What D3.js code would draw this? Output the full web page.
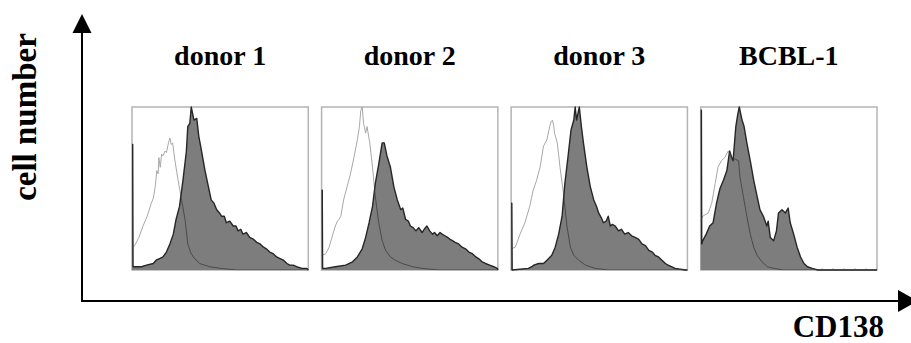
<!DOCTYPE html>
<html>
<head>
<meta charset="utf-8">
<script src="https://cdn.jsdelivr.net/npm/d3@7"></script>
<style>
  body { margin: 0; background: #fff; }
  text { font-family: "Liberation Serif", "Times New Roman", serif; font-weight: bold; fill: #000; }
</style>
</head>
<body>
<div id="chart"></div>
<script>
/* DATA */
// panel names, histograms as [channel (0-256), % of max count]
const samples = ["donor 1", "donor 2", "donor 3", "BCBL-1"];

// isotype control (open grey line)
const iso1 = [[0,14],[4,15],[10,20],[16,27],[22,33],[28,41],[31,44],[34,52],[36,61],[38,59],[39,69],[41,63],[43,71],[45,70],[48,73],[50,72],[53,78],[55,81],[57,77],[59,78],[62,68],[67,55],[72,43],[77,31],[81,16],[85,11],[89,8],[98,4],[113,2],[128,1],[152,0],[256,0]];
const iso2 = [[0,9],[6,10],[11,14],[15,20],[20,27],[23,30],[25,31],[28,33],[32,43],[37,51],[42,59],[47,69],[52,80],[55,88],[57,98],[59,100],[61,90],[64,84],[66,88],[70,78],[74,63],[78,45],[83,29],[88,18],[93,12],[100,8],[107,6],[117,4],[132,2],[146,1],[170,0],[256,0]];
const iso3 = [[0,13],[6,14],[13,22],[20,29],[27,39],[32,49],[37,55],[42,63],[47,76],[52,80],[56,88],[58,91],[60,92],[62,88],[63,84],[67,78],[71,63],[76,47],[81,27],[86,14],[91,9],[98,6],[108,3],[122,1],[141,0],[256,0]];
const iso4 = [[0,30],[3,33],[11,35],[16,41],[21,53],[25,63],[30,67],[35,69],[40,73],[45,69],[50,68],[55,67],[57,57],[62,45],[67,33],[72,22],[77,14],[82,9],[89,5],[97,2],[106,1],[120,0],[256,0]];

// CD138 staining (filled histogram); first bin is the pile-up at channel 0
const cd1 = [[0,77],[1,77],[1.5,2],[6,2],[14,2],[21,3],[31,4],[35,6],[40,7],[45,8],[50,11],[55,16],[60,22],[64,31],[69,39],[74,55],[79,73],[81,88],[84,90],[86,100],[90,92],[94,93],[97,82],[101,73],[106,61],[111,51],[115,43],[119,41],[123,37],[127,35],[130,33],[134,33],[137,29],[142,30],[147,27],[151,27],[154,24],[158,25],[161,22],[166,23],[171,20],[176,19],[181,17],[186,16],[191,14],[195,13],[200,11],[205,10],[210,8],[215,7],[220,6],[225,4],[229,3],[234,3],[239,2],[247,1],[254,1],[256,0]];
const cd2 = [[0,49],[1,49],[1.5,1],[6,1],[20,2],[35,3],[45,5],[52,8],[59,13],[64,20],[69,29],[74,39],[78,53],[83,65],[88,78],[91,78],[95,70],[100,63],[105,51],[110,43],[115,37],[118,38],[122,31],[126,30],[129,27],[133,26],[137,24],[141,26],[146,23],[149,25],[153,27],[157,24],[161,22],[164,23],[168,21],[172,23],[175,22],[179,21],[183,20],[186,19],[190,18],[194,17],[199,16],[204,14],[209,13],[214,11],[219,10],[224,8],[228,7],[233,5],[238,4],[244,3],[250,2],[255,1],[256,0]];
const cd3 = [[0,41],[1,41],[1.5,0],[25,1],[30,2],[33,3],[40,4],[47,4],[52,6],[59,9],[64,14],[69,22],[74,33],[78,53],[83,71],[87,86],[91,92],[93,100],[95,92],[99,100],[102,88],[105,78],[110,63],[115,51],[120,43],[124,39],[127,35],[131,32],[134,29],[138,30],[141,33],[144,27],[147,28],[151,27],[156,24],[160,25],[165,22],[170,23],[175,21],[180,20],[185,19],[190,16],[195,15],[200,12],[205,11],[209,9],[214,8],[219,6],[224,4],[228,3],[238,1],[253,0],[256,0]];
const cd4 = [[0,98],[1,98],[1.5,16],[3,18],[8,22],[13,27],[18,29],[23,41],[28,50],[33,55],[38,61],[42,73],[45,69],[47,67],[51,88],[54,96],[56,100],[60,92],[63,88],[67,78],[72,67],[77,55],[82,45],[86,37],[91,33],[96,27],[98,30],[101,20],[106,18],[110,24],[113,35],[118,37],[123,35],[127,38],[130,29],[135,22],[140,14],[145,8],[150,4],[155,2],[162,1],[170,0],[256,0]];

const isoData = [iso1, iso2, iso3, iso4];
const cdData = [cd1, cd2, cd3, cd4];

/* LAYOUT */
const width = 911, height = 343;
const plotTop = 107, plotBottom = 270;

const svg = d3.select("#chart").append("svg")
  .attr("width", width)
  .attr("height", height);

// panel positions
const panelScale = d3.scaleBand()
  .domain(samples)
  .range([132, 877])
  .paddingInner(0.07);

const yScale = d3.scaleLinear()
  .domain([0, 100])
  .range([plotBottom, plotTop]);

samples.forEach((name, i) => {
  const x0 = panelScale(name);
  const xScale = d3.scaleLinear()
    .domain([0, 256])
    .range([x0, x0 + panelScale.bandwidth()]);

  const g = svg.append("g").attr("class", "panel");

  const area = d3.area()
    .x(d => xScale(d[0]))
    .y0(plotBottom)
    .y1(d => yScale(d[1]));
  const line = d3.line()
    .x(d => xScale(d[0]))
    .y(d => yScale(d[1]));

  // clip for the part of the isotype line that falls inside the filled histogram
  svg.append("clipPath")
    .attr("id", "fill-clip-" + i)
    .append("path")
    .attr("d", area(cdData[i]));

  // frame
  g.append("rect")
    .attr("x", x0)
    .attr("y", plotTop)
    .attr("width", panelScale.bandwidth())
    .attr("height", plotBottom - plotTop)
    .attr("fill", "none")
    .attr("stroke", "#b4b4b4")
    .attr("stroke-width", 1.5);

  // small ticks along bottom edge
  const ticks = d3.range(0, 257, 16);
  g.selectAll("line.tick")
    .data(ticks)
    .join("line")
    .attr("class", "tick")
    .attr("x1", d => xScale(d))
    .attr("x2", d => xScale(d))
    .attr("y1", plotBottom)
    .attr("y2", plotBottom - 2)
    .attr("stroke", "#bbb")
    .attr("stroke-width", 1);

  // isotype line over white
  g.append("path")
    .attr("d", line(isoData[i]))
    .attr("fill", "none")
    .attr("stroke", "#a8a8a8")
    .attr("stroke-width", 1);

  // CD138 filled histogram
  g.append("path")
    .attr("d", area(cdData[i]))
    .attr("fill", "#7d7d7d")
    .attr("stroke", "none");
  g.append("path")
    .attr("d", line(cdData[i]))
    .attr("fill", "none")
    .attr("stroke", "#262626")
    .attr("stroke-width", 1.4)
    .attr("stroke-linejoin", "round");

  // isotype line where it runs inside the fill
  g.append("path")
    .attr("d", line(isoData[i]))
    .attr("clip-path", `url(#fill-clip-${i})`)
    .attr("fill", "none")
    .attr("stroke", "#4a4a4a")
    .attr("stroke-width", 1);

  // title
  svg.append("text")
    .attr("x", x0 + panelScale.bandwidth() / 2)
    .attr("y", 65)
    .attr("text-anchor", "middle")
    .attr("font-size", 28)
    .text(name);
});

/* AXES */
const axisX = 82, axisY = 301;
svg.append("line")
  .attr("x1", axisX).attr("x2", axisX)
  .attr("y1", axisY).attr("y2", 30)
  .attr("stroke", "#000").attr("stroke-width", 2);
svg.append("line")
  .attr("x1", axisX - 1).attr("x2", 900)
  .attr("y1", axisY).attr("y2", axisY)
  .attr("stroke", "#000").attr("stroke-width", 2);
// arrow heads
svg.append("path")
  .attr("d", `M${axisX},14 L${axisX - 9.5},33 L${axisX + 9.5},33 Z`)
  .attr("fill", "#000");
svg.append("path")
  .attr("d", `M918,${axisY} L898,${axisY - 11} L898,${axisY + 11} Z`)
  .attr("fill", "#000");

svg.append("text")
  .attr("transform", "translate(36,117) rotate(-90)")
  .attr("text-anchor", "middle")
  .attr("font-size", 33)
  .text("cell number");

svg.append("text")
  .attr("x", 884)
  .attr("y", 337)
  .attr("text-anchor", "end")
  .attr("font-size", 31)
  .text("CD138");
</script>
</body>
</html>
